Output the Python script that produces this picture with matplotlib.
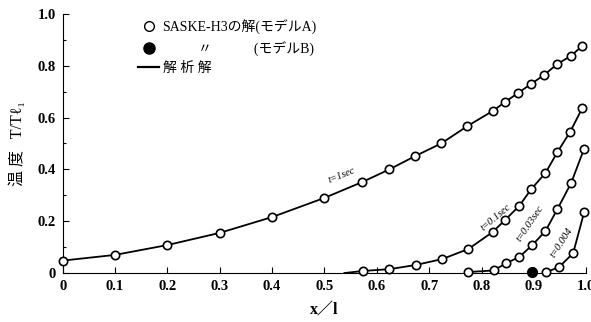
import matplotlib.pyplot as plt
from matplotlib.lines import Line2D
from matplotlib.ticker import MultipleLocator

# t = 1 sec (SASKE-H3, model A)
x_t1 = [0.0, 0.1, 0.2, 0.3, 0.4, 0.5, 0.572, 0.624, 0.672, 0.723, 0.773,
        0.822, 0.845, 0.870, 0.895, 0.920, 0.945, 0.971, 0.992]
y_t1 = [0.048, 0.07, 0.108, 0.155, 0.216, 0.29, 0.351, 0.40, 0.45, 0.50, 0.567,
        0.626, 0.66, 0.695, 0.73, 0.765, 0.807, 0.838, 0.876]
# t = 0.1 sec
x_t01 = [0.573, 0.624, 0.674, 0.725, 0.775, 0.821, 0.845, 0.872, 0.895,
         0.922, 0.945, 0.969, 0.992]
y_t01 = [0.008, 0.015, 0.031, 0.054, 0.093, 0.158, 0.205, 0.259, 0.324,
         0.386, 0.467, 0.544, 0.635]
# t = 0.03 sec
x_t003 = [0.775, 0.823, 0.847, 0.872, 0.897, 0.922, 0.945, 0.971, 0.996]
y_t003 = [0.004, 0.010, 0.038, 0.062, 0.108, 0.162, 0.247, 0.347, 0.48]
# t = 0.004 sec
x_t0004 = [0.924, 0.948, 0.975, 0.996]
y_t0004 = [0.004, 0.023, 0.077, 0.235]
# model B
x_b = [0.897]
y_b = [0.004]

# analytic line start points (where the curves leave the axis)
x_start = [0.0, 0.538, 0.770, 0.918]
y_start = [0.045, 0.0, 0.0, 0.0]

labels = ['t=1sec', 't=0.1sec', 't=0.03sec', 't=0.004']
label_x = [0.534, 0.828, 0.893, 0.952]
label_y = [0.378, 0.215, 0.193, 0.116]
label_rot = [22, 40, 56, 57]

xticks = [0, 0.1, 0.2, 0.3, 0.4, 0.5, 0.6, 0.7, 0.8, 0.9, 1.0]
xticklabels = ['0', '0.1', '0.2', '0.3', '0.4', '0.5', '0.6', '0.7', '0.8', '0.9', '1.0']
yticks = [0, 0.2, 0.4, 0.6, 0.8, 1.0]
yticklabels = ['0', '0.2', '0.4', '0.6', '0.8', '1.0']

fam = ['Liberation Serif', 'DejaVu Serif', 'Noto Sans CJK JP']
plt.rcParams['font.family'] = fam

fig = plt.figure(figsize=(5.91, 3.22), dpi=100)
ax = fig.add_axes([0.106, 0.152, 0.886, 0.805])

series = [(x_t1, y_t1), (x_t01, y_t01), (x_t003, y_t003), (x_t0004, y_t0004)]
for i, (xs, ys) in enumerate(series):
    lx = [x_start[i]] + xs if x_start[i] < xs[0] else xs
    ly = [y_start[i]] + ys if x_start[i] < xs[0] else ys
    ax.plot(lx, ly, color='black', lw=1.3, zorder=2, clip_on=False)
    ax.plot(xs, ys, 'o', ms=6, mfc='white', mec='black', mew=1.2, zorder=3, clip_on=False)
    ax.text(label_x[i], label_y[i], labels[i], rotation=label_rot[i], fontsize=7.5,
            style='italic', ha='center', va='center')

ax.plot(x_b, y_b, 'o', ms=7, color='black', zorder=4, clip_on=False)

ax.set_xlim(0, 1.0)
ax.set_ylim(0, 1.0)
ax.set_xticks(xticks)
ax.set_xticklabels(xticklabels)
ax.set_yticks(yticks)
ax.set_yticklabels(yticklabels)
ax.yaxis.set_minor_locator(MultipleLocator(0.1))
ax.tick_params(direction='in', length=4, width=0.8, labelsize=10.5, pad=5)
ax.tick_params(which='minor', direction='in', length=2.5, width=0.8)
for t in ax.get_xticklabels() + ax.get_yticklabels():
    t.set_fontweight('bold')
ax.spines['top'].set_visible(False)
ax.spines['right'].set_visible(False)

ax.set_xlabel('x／l', fontsize=11.5, fontweight='bold', labelpad=7)
ax.set_ylabel('温 度   T/Tℓ₁', fontsize=11.5, labelpad=8)

handles = [
    Line2D([], [], marker='o', ls='none', ms=7, mfc='white', mec='black', mew=1.0),
    Line2D([], [], marker='o', ls='none', ms=8, color='black'),
    Line2D([], [], color='black', lw=1.6),
]
leg_labels = ['SASKE-H3の解(モデルA)', '          〃            (モデルB)', '解 析 解']
leg = fig.legend(handles, leg_labels, loc='upper left', bbox_to_anchor=(0.234, 0.94),
                 frameon=False, fontsize=10, handlelength=1.5, handletextpad=0.25,
                 labelspacing=0.45, borderpad=0, borderaxespad=0)

fig.savefig('out.png', dpi=100)
